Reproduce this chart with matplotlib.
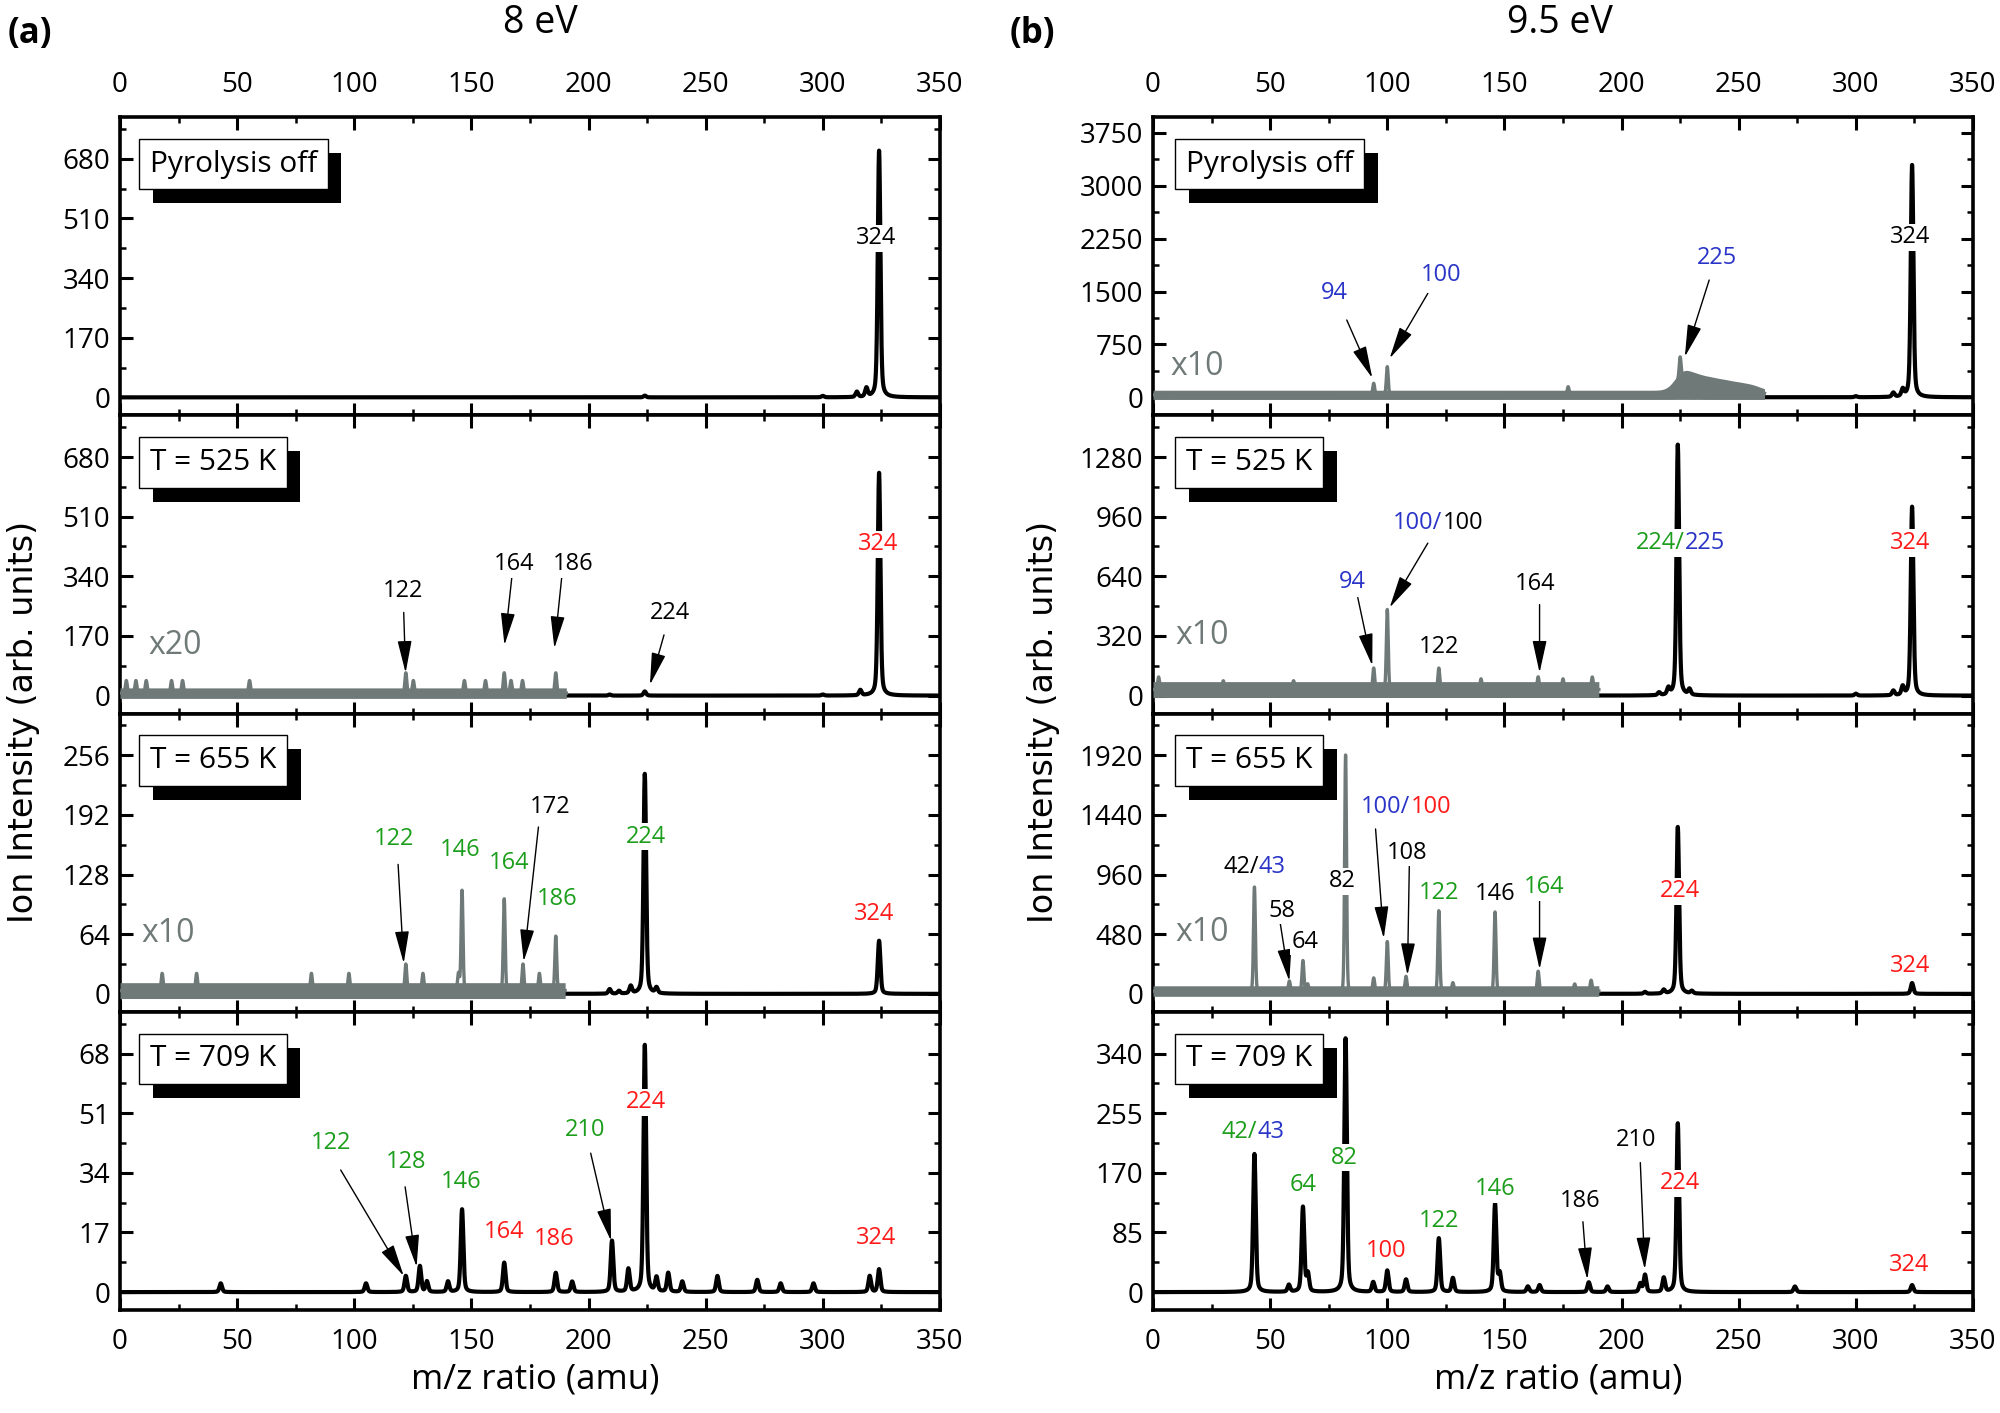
import numpy as np
import matplotlib
matplotlib.use('Agg')
import matplotlib.pyplot as plt
from matplotlib import patheffects
from matplotlib.offsetbox import TextArea, HPacker, AnnotationBbox
from matplotlib.ticker import MultipleLocator

plt.rcParams['font.family'] = ['Open Sans', 'DejaVu Sans']

GREEN = '#1c9e1c'
RED = '#ff1a1a'
BLUE = '#2a35c8'
GRAY = '#6f7a78'
COL = {'k': 'black', 'g': GREEN, 'r': RED, 'b': BLUE}

# ---------------------------------------------------------------- data
# (a) 8 eV
A1_box = 'Pyrolysis off'
A1_mz = [224, 300, 314.5, 318.6, 324]
A1_h = [5, 4, 15, 25, 703]
A1_lab = ['324']
A1_labc = ['k']
A1_labx = [322.8]
A1_laby = [453]

A2_box = 'T = 525 K'
A2_mz = [209, 224, 300, 316, 324]
A2_h = [3, 12, 3, 15, 635]
A2_gray_tag = 'x20'
A2_gray_end = 190.5
A2_gray_band = [-8, 22]
A2_gmz = [2.7, 6.8, 11.2, 22, 26.7, 55.3, 122, 125.2, 147, 156, 164, 166.9, 171.8, 186]
A2_gh = [43, 43, 43, 43, 43, 43, 65, 43, 43, 43, 65, 43, 43, 65]
A2_lab = ['122', '164', '186', '224', '324']
A2_labc = ['k', 'k', 'k', 'k', 'r']
A2_labx = [120.6, 168.2, 193.3, 234.9, 323.4]
A2_laby = [298, 375, 375, 234, 431]
A2_arr = [[121.1, 237, 121.9, 65], [167.4, 347, 164.1, 144],
          [188.6, 341, 185.4, 135], [232.2, 173, 226.2, 31]]
A2_tagxy = [23.5, 144]

A3_box = 'T = 655 K'
A3_mz = [209, 213, 218, 224, 229, 324]
A3_h = [5, 3, 8, 236, 6, 57]
A3_gray_tag = 'x10'
A3_gray_end = 190
A3_gray_band = [-5, 12]
A3_gmz = [18, 32.7, 81.7, 97.7, 122, 129.3, 144.5, 146, 164, 172, 179, 186]
A3_gh = [22, 22, 22, 22, 32, 22, 22, 111, 102, 32, 22, 62]
A3_lab = ['122', '146', '164', '172', '186', '224', '324']
A3_labc = ['g', 'g', 'g', 'k', 'g', 'g', 'r']
A3_labx = [117, 145.1, 166, 183.7, 186.5, 224.5, 322]
A3_laby = [166.5, 154.6, 140.2, 200.4, 102, 168.5, 85.9]
A3_arr = [[118.7, 138.9, 121.1, 32.8], [178.6, 179, 172.3, 34.8]]
A3_tagxy = [20.7, 64.7]

A4_box = 'T = 709 K'
A4_mz = [43, 105, 122, 128, 131, 140, 146, 164, 186, 193, 210, 217, 224, 229,
         234, 240, 255, 272, 282, 296, 320, 324]
A4_h = [2.5, 2.5, 4.6, 7.4, 3, 3, 23.6, 8.4, 5.5, 3, 14.6, 6.5, 70.4, 4,
        5.4, 3, 4.6, 3.5, 2.5, 2.5, 4.6, 6.5]
A4_lab = ['122', '128', '146', '164', '186', '210', '224', '324']
A4_labc = ['g', 'g', 'g', 'r', 'r', 'g', 'r', 'r']
A4_labx = [90.1, 122.2, 145.4, 163.9, 185.4, 198.7, 224.6, 322.6]
A4_laby = [42.4, 37, 31.3, 17, 15, 46.2, 54.1, 15.3]
A4_arr = [[94.2, 34.8, 121.1, 4.6], [121.7, 30, 126.6, 7.2], [200.9, 39.6, 209.6, 14.6]]

# (b) 9.5 eV
B1_box = 'Pyrolysis off'
B1_mz = [224, 228, 233, 300, 316, 320, 324]
B1_h = [40, 55, 35, 15, 60, 100, 3294]
B1_gray_tag = 'x10'
B1_gray_end = 261
B1_gray_band = [-30, 100]
B1_gmz = [94.2, 100, 177.2, 225]
B1_gh = [198, 434, 150, 330]
B1_tail_mz = [226, 232, 238, 244, 250, 256]
B1_tail_h = [230, 160, 130, 105, 80, 60]
B1_lab = ['324', '94', '100', '225']
B1_labc = ['k', 'b', 'b', 'b']
B1_labx = [323.1, 77.3, 122.8, 240.6]
B1_laby = [2269, 1483, 1734, 1970]
B1_arr = [[82.7, 1096, 93.6, 273], [117.3, 1473, 101, 551], [237.4, 1663, 227, 575]]
B1_tagxy = [18.8, 434]

B2_box = 'T = 525 K'
B2_mz = [216, 220, 224, 229, 300, 316, 320, 324]
B2_h = [15, 35, 1346, 30, 10, 25, 45, 1013]
B2_gray_tag = 'x10'
B2_gray_end = 190.3
B2_gray_band = [-10, 75]
B2_gmz = [2.4, 30, 60, 94.2, 100, 122, 140, 164.4, 175, 187.5]
B2_gh = [100, 80, 80, 148, 462, 148, 90, 101, 90, 100]
B2_lab = ['94', '100/|100', '122', '164', '224/|225', '324']
B2_labc = ['b', 'b|k', 'k', 'k', 'g|b', 'r']
B2_labx = [84.9, 121.7, 122.2, 163, 225.1, 323.1]
B2_laby = [610, 924, 261, 600, 818, 818]
B2_arr = [[87.4, 526, 93.6, 161], [117.3, 818, 101, 472], [165, 488, 165, 123]]
B2_tagxy = [21, 324]

B3_box = 'T = 655 K'
B3_mz = [210, 218, 224, 230, 324]
B3_h = [15, 30, 1343, 20, 87]
B3_gray_tag = 'x10'
B3_gray_end = 190.3
B3_gray_band = [-20, 65]
B3_gmz = [43.3, 58.2, 64, 66, 82.2, 94.2, 100, 108, 122, 128, 146, 164.4, 180, 187]
B3_gh = [860, 103, 268, 80, 1922, 128, 421, 141, 669, 90, 659, 182, 80, 110]
B3_lab = ['42/|43', '58', '64', '82', '100/|100', '108', '122', '146', '164', '224', '324']
B3_labc = ['k|b', 'k', 'k', 'k', 'b|r', 'k', 'g', 'k', 'g', 'r', 'r']
B3_labx = [43.3, 55, 65, 80.8, 108, 108.6, 122.2, 145.9, 167.1, 224.8, 323.1]
B3_laby = [1019, 669, 421, 905, 1503, 1137, 812, 803, 860, 825, 224]
B3_arr = [[54.2, 581, 58.2, 103], [95, 1327, 98.5, 447],
          [109.4, 1026, 108.6, 151], [165, 745, 165, 198]]
B3_tagxy = [21, 494]

B4_box = 'T = 709 K'
B4_mz = [43.3, 58, 64, 66.1, 82.2, 94, 100, 108, 122, 128, 146, 148, 160, 165,
         186, 194, 208, 210, 218, 224, 274, 324]
B4_h = [196.8, 10, 120.8, 25, 361.6, 14, 30.6, 18, 76.7, 20, 125.6, 25, 8, 10,
        14, 8, 12, 24.4, 20, 240.5, 8, 10]
B4_lab = ['42/|43', '64', '82', '100', '122', '146', '186', '210', '224', '324']
B4_labc = ['g|b', 'g', 'g', 'r', 'g', 'g', 'k', 'k', 'r', 'r']
B4_labx = [42.7, 64.2, 81.7, 99.6, 121.9, 145.9, 182.1, 206.1, 225.1, 322.8]
B4_laby = [228.6, 152.6, 191.6, 59, 101.8, 146.5, 129.8, 216.7, 155, 38.6]
B4_arr = [[183.5, 100.3, 185.4, 18], [208, 184.5, 209.9, 32.5]]

x_ticks = [0, 50, 100, 150, 200, 250, 300, 350]

# ---------------------------------------------------------------- helpers
MZ = np.linspace(0, 350, 7001)


def profile(mz, h, sigma, gamma, eta):
    y = np.zeros_like(MZ)
    for m, a in zip(mz, h):
        g = np.exp(-0.5 * ((MZ - m) / sigma) ** 2)
        lo = 1.0 / (1.0 + ((MZ - m) / gamma) ** 2)
        y += a * ((1 - eta) * g + eta * lo)
    return y


FIG_W, FIG_H = 2000, 1413
fig = plt.figure(figsize=(20, 14.13), dpi=100)

TOP = 117
PH = 298.25
XL = {0: 120, 1: 1153}
AW = 820

panels = [
    dict(col=0, row=0, d='A1', ylim=(-51, 799), M=170),
    dict(col=0, row=1, d='A2', ylim=(-51, 799), M=170),
    dict(col=0, row=2, d='A3', ylim=(-19.2, 300.8), M=64),
    dict(col=0, row=3, d='A4', ylim=(-5.1, 79.9), M=17),
    dict(col=1, row=0, d='B1', ylim=(-255, 3975), M=750),
    dict(col=1, row=1, d='B2', ylim=(-96, 1504), M=320),
    dict(col=1, row=2, d='B3', ylim=(-144, 2256), M=480),
    dict(col=1, row=3, d='B4', ylim=(-25.5, 399.5), M=85),
]

G = globals()


def add_label(ax, text, colors, x, y, fs=17):
    parts = text.split('|')
    cols = colors.split('|')
    children = [TextArea(p, textprops=dict(color=COL[c], fontsize=fs)) for p, c in zip(parts, cols)]
    pack = HPacker(children=children, pad=0, sep=0, align='baseline')
    ab = AnnotationBbox(pack, (x, y), xycoords='data', frameon=True, pad=0.12,
                        box_alignment=(0.5, 0.5), zorder=6,
                        bboxprops=dict(facecolor='white', edgecolor='none'))
    ax.add_artist(ab)


for p in panels:
    key = p['d']
    col, row = p['col'], p['row']
    left = XL[col] / FIG_W
    bottom = 1 - (TOP + PH * (row + 1)) / FIG_H
    ax = fig.add_axes([left, bottom, AW / FIG_W, PH / FIG_H])
    ax.set_xlim(0, 350)
    ax.set_ylim(*p['ylim'])

    # black trace
    yb = profile(G[key + '_mz'], G[key + '_h'], 0.55, 0.7, 0.35)
    ax.plot(MZ, yb, color='black', lw=3.0, zorder=2, solid_joinstyle='round')

    # gray (scaled) trace
    if key + '_gmz' in G:
        end = G[key + '_gray_end']
        lo, hi = G[key + '_gray_band']
        mid = 0.5 * (lo + hi)
        m = MZ <= end
        gh = [h - mid for h in G[key + '_gh']]
        yg = mid + profile(G[key + '_gmz'], gh, 0.4, 0.5, 0.1)
        top = np.full_like(MZ, hi)
        if key + '_tail_mz' in G:
            tail = profile(G[key + '_tail_mz'], G[key + '_tail_h'], 3.5, 3.5, 0.0)
            yg = yg + tail
            top = top + tail
        ax.fill_between(MZ[m], lo, top[m], color=GRAY, lw=0, zorder=3)
        ax.plot(MZ[m], yg[m], color=GRAY, lw=2.4, zorder=3)
        tx, ty = G[key + '_tagxy']
        ax.text(tx, ty, G[key + '_gray_tag'], color=GRAY, fontsize=23,
                ha='center', va='center', zorder=6)

    # peak labels
    for t, c, x, y in zip(G[key + '_lab'], G[key + '_labc'], G[key + '_labx'], G[key + '_laby']):
        add_label(ax, t, c, x, y)

    # arrows
    if key + '_arr' in G:
        for x0, y0, x1, y1 in G[key + '_arr']:
            ax.annotate('', xy=(x1, y1), xytext=(x0, y0), xycoords='data',
                        arrowprops=dict(arrowstyle='-|>,head_length=1.0,head_width=0.22',
                                        color='black', lw=1.0, shrinkA=0, shrinkB=0,
                                        mutation_scale=20), zorder=5)

    # condition box with shadow
    bx = 0.036 if col == 0 else 0.040
    tb = ax.text(bx, 0.842, G[key + '_box'], transform=ax.transAxes, fontsize=21.5,
                 ha='left', va='center', zorder=7,
                 bbox=dict(boxstyle='square,pad=0.36', facecolor='white',
                           edgecolor='black', linewidth=1.0))
    tb.get_bbox_patch().set_path_effects([
        patheffects.SimplePatchShadow(offset=(10, -10), shadow_rgbFace='black', alpha=1.0),
        patheffects.Normal()])

    # ticks
    ax.xaxis.set_major_locator(MultipleLocator(50))
    ax.xaxis.set_minor_locator(MultipleLocator(25))
    ax.yaxis.set_major_locator(MultipleLocator(p['M']))
    ax.yaxis.set_minor_locator(MultipleLocator(p['M'] / 2))
    ax.set_xticks(x_ticks)
    ax.tick_params(which='both', direction='in', top=True, right=True,
                   labeltop=(row == 0), labelbottom=(row == 3), labelsize=20)
    ax.tick_params(which='major', length=9, width=2.2)
    ax.tick_params(which='minor', length=4, width=1.8)
    ax.tick_params(axis='x', which='major', pad=13)
    ax.tick_params(axis='y', which='major', pad=7)
    for s in ax.spines.values():
        s.set_linewidth(2.6)

# titles and labels
fig.text(540 / FIG_W, 1 - 23 / FIG_H, '8 eV', ha='center', va='center', fontsize=27)
fig.text(1560 / FIG_W, 1 - 23 / FIG_H, '9.5 eV', ha='center', va='center', fontsize=27)
fig.text(30 / FIG_W, 1 - 34 / FIG_H, '(a)', ha='center', va='center', fontsize=25, fontweight='bold')
fig.text(1032 / FIG_W, 1 - 34 / FIG_H, '(b)', ha='center', va='center', fontsize=25, fontweight='bold')
fig.text(535 / FIG_W, 1 - 1380 / FIG_H, 'm/z ratio (amu)', ha='center', va='center', fontsize=25)
fig.text(1558 / FIG_W, 1 - 1380 / FIG_H, 'm/z ratio (amu)', ha='center', va='center', fontsize=25)
fig.text(24 / FIG_W, 1 - 722 / FIG_H, 'Ion Intensity (arb. units)', rotation=90,
         ha='center', va='center', fontsize=24, family=['DejaVu Sans'])
fig.text(1044 / FIG_W, 1 - 722 / FIG_H, 'Ion Intensity (arb. units)', rotation=90,
         ha='center', va='center', fontsize=24, family=['DejaVu Sans'])

fig.savefig('out.png', dpi=100, facecolor='white')
